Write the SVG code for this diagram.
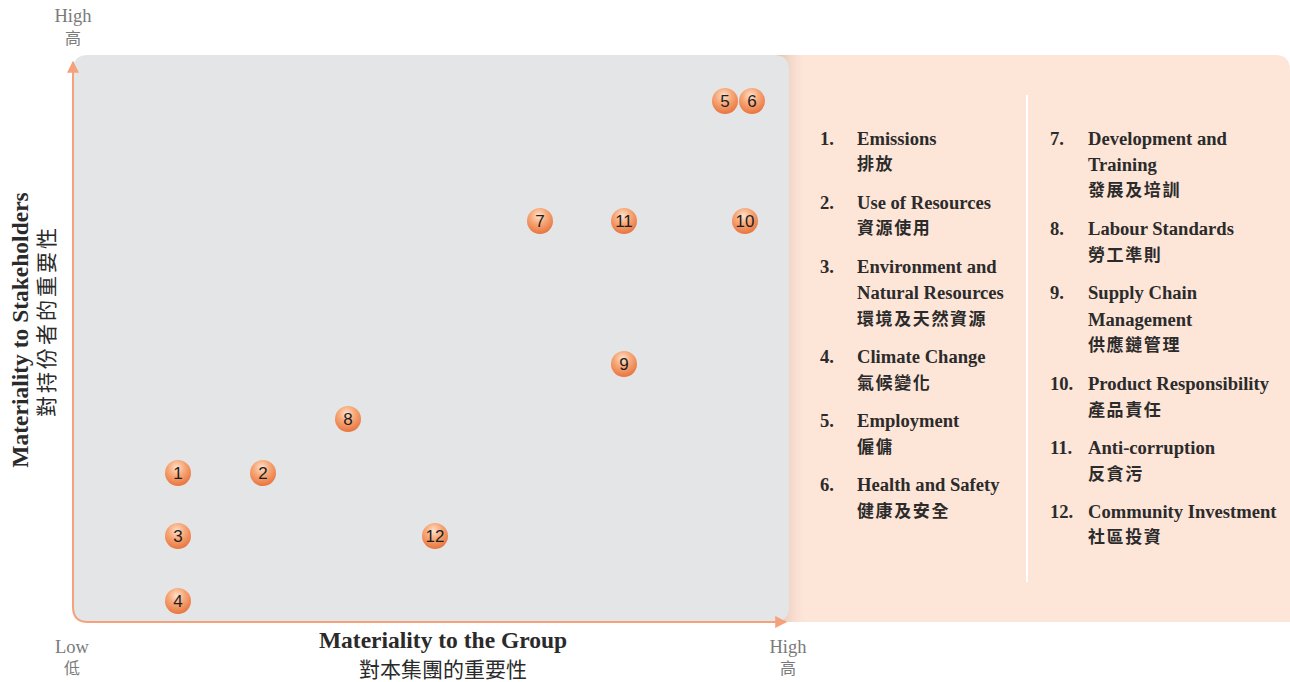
<svg xmlns="http://www.w3.org/2000/svg" width="1290" height="682" viewBox="0 0 1290 682">
<defs>
<style>
.ax{font-family:"Liberation Serif","Noto Sans CJK TC",serif;font-size:18.5px;fill:#7a7a7a;text-anchor:middle}
.axc{font-family:"Noto Sans CJK TC",serif;font-size:16px;fill:#7a7a7a;text-anchor:middle}
.tt{font-family:"Liberation Serif","Noto Sans CJK TC",serif;font-size:23.5px;font-weight:bold;fill:#2a2a2a;text-anchor:middle}
.tc{font-family:"Noto Sans CJK TC",serif;font-size:21px;fill:#2a2a2a;text-anchor:middle}
.lg{font-family:"Liberation Serif","Noto Sans CJK TC",serif;font-size:18.6px;font-weight:bold;fill:#2b2b2b}
.lc{font-family:"Noto Sans CJK TC",serif;font-size:17px;font-weight:bold;fill:#2b2b2b;letter-spacing:1.6px}
.bn{font-family:"Liberation Sans",Arial,sans-serif;font-size:17px;fill:#1e1e1e;text-anchor:middle}
.ball{fill:url(#bg)}
.axis{fill:none;stroke:#f5a27c;stroke-width:2}
</style>
<radialGradient id="bg" cx="0.45" cy="0.3" r="0.7">
<stop offset="0" stop-color="#fde2cf"/>
<stop offset="0.45" stop-color="#f7a878"/>
<stop offset="1" stop-color="#e8743f"/>
</radialGradient>
<linearGradient id="sh" x1="0" y1="0" x2="1" y2="0">
<stop offset="0" stop-color="#dcbba7"/>
<stop offset="1" stop-color="#fde5d8" stop-opacity="0"/>
</linearGradient>
<marker id="ah" viewBox="0 0 10 10" refX="9" refY="5" markerWidth="6" markerHeight="6" orient="auto" markerUnits="strokeWidth">
<path d="M0,0 L10,5 L0,10 z" fill="#f5a27c"/>
</marker>
</defs>
<rect width="1290" height="682" fill="#ffffff"/>
<g id="legend-panel">
<path d="M770,55 H1275 Q1290,55 1290,70 V622 H770 z" fill="#fde5d8"/>
<rect x="776" y="55" width="32" height="567" fill="url(#sh)"/>
<line x1="1027" y1="95" x2="1027" y2="582" stroke="#ffffff" stroke-width="2"/>
</g>
<g id="plot">
<path d="M88,55 H774 Q789,55 789,70 V607 Q789,622 774,622 H88 Q73,622 73,607 V70 Q73,55 88,55 z" fill="#e4e5e7"/>
</g>
<g id="connectors">
<path class="axis" d="M73,607 V62" marker-end="url(#ah)"/>
<path class="axis" d="M73,600 V607 Q73,622 88,622 H786" marker-end="url(#ah)"/>
</g>
<g id="axis-labels">
<text class="ax" x="73" y="22">High</text>
<text class="axc" x="73" y="44">高</text>
<text class="ax" x="72" y="653">Low</text>
<text class="axc" x="72" y="674">低</text>
<text class="ax" x="788" y="653">High</text>
<text class="axc" x="788" y="674">高</text>
<text class="tt" x="443" y="648">Materiality to the Group</text>
<text class="tc" x="443" y="677">對本集團的重要性</text>
<text class="tt" transform="translate(28,330) rotate(-90)">Materiality to Stakeholders</text>
<text class="tc" style="letter-spacing:3px" transform="translate(54,321) rotate(-90)">對持份者的重要性</text>
</g>
<g id="n5"><circle class="ball" cx="725" cy="101" r="13"/><text class="bn" x="725" y="107">5</text></g>
<g id="n6"><circle class="ball" cx="752" cy="101" r="13"/><text class="bn" x="752" y="107">6</text></g>
<g id="n7"><circle class="ball" cx="540" cy="221" r="13"/><text class="bn" x="540" y="227">7</text></g>
<g id="n11"><circle class="ball" cx="624" cy="221" r="13"/><text class="bn" x="624" y="227">11</text></g>
<g id="n10"><circle class="ball" cx="745" cy="221" r="13"/><text class="bn" x="745" y="227">10</text></g>
<g id="n9"><circle class="ball" cx="624" cy="364" r="13"/><text class="bn" x="624" y="370">9</text></g>
<g id="n8"><circle class="ball" cx="348" cy="419" r="13"/><text class="bn" x="348" y="425">8</text></g>
<g id="n1"><circle class="ball" cx="178" cy="473" r="13"/><text class="bn" x="178" y="479">1</text></g>
<g id="n2"><circle class="ball" cx="263" cy="473" r="13"/><text class="bn" x="263" y="479">2</text></g>
<g id="n3"><circle class="ball" cx="178" cy="536" r="13"/><text class="bn" x="178" y="542">3</text></g>
<g id="n12"><circle class="ball" cx="435" cy="536" r="13"/><text class="bn" x="435" y="542">12</text></g>
<g id="n4"><circle class="ball" cx="178" cy="601" r="13"/><text class="bn" x="178" y="607">4</text></g>
<g id="legend">
<text class="lg" x="820" y="145">1.</text><text class="lg" x="857" y="145">Emissions</text><text class="lc" x="857" y="170">排放</text>
<text class="lg" x="820" y="209">2.</text><text class="lg" x="857" y="209">Use of Resources</text><text class="lc" x="857" y="234">資源使用</text>
<text class="lg" x="820" y="273">3.</text><text class="lg" x="857" y="273">Environment and</text><text class="lg" x="857" y="299">Natural Resources</text><text class="lc" x="857" y="325">環境及天然資源</text>
<text class="lg" x="820" y="363">4.</text><text class="lg" x="857" y="363">Climate Change</text><text class="lc" x="857" y="389">氣候變化</text>
<text class="lg" x="820" y="427">5.</text><text class="lg" x="857" y="427">Employment</text><text class="lc" x="857" y="453">僱傭</text>
<text class="lg" x="820" y="491">6.</text><text class="lg" x="857" y="491">Health and Safety</text><text class="lc" x="857" y="517">健康及安全</text>
<text class="lg" x="1050" y="145">7.</text><text class="lg" x="1088" y="145">Development and</text><text class="lg" x="1088" y="171">Training</text><text class="lc" x="1088" y="196">發展及培訓</text>
<text class="lg" x="1050" y="235">8.</text><text class="lg" x="1088" y="235">Labour Standards</text><text class="lc" x="1088" y="261">勞工準則</text>
<text class="lg" x="1050" y="299">9.</text><text class="lg" x="1088" y="299">Supply Chain</text><text class="lg" x="1088" y="326">Management</text><text class="lc" x="1088" y="351">供應鏈管理</text>
<text class="lg" x="1050" y="390">10.</text><text class="lg" x="1088" y="390">Product Responsibility</text><text class="lc" x="1088" y="416">產品責任</text>
<text class="lg" x="1050" y="454">11.</text><text class="lg" x="1088" y="454">Anti-corruption</text><text class="lc" x="1088" y="480">反貪污</text>
<text class="lg" x="1050" y="518">12.</text><text class="lg" x="1088" y="518">Community Investment</text><text class="lc" x="1088" y="543">社區投資</text>
</g>
</svg>
